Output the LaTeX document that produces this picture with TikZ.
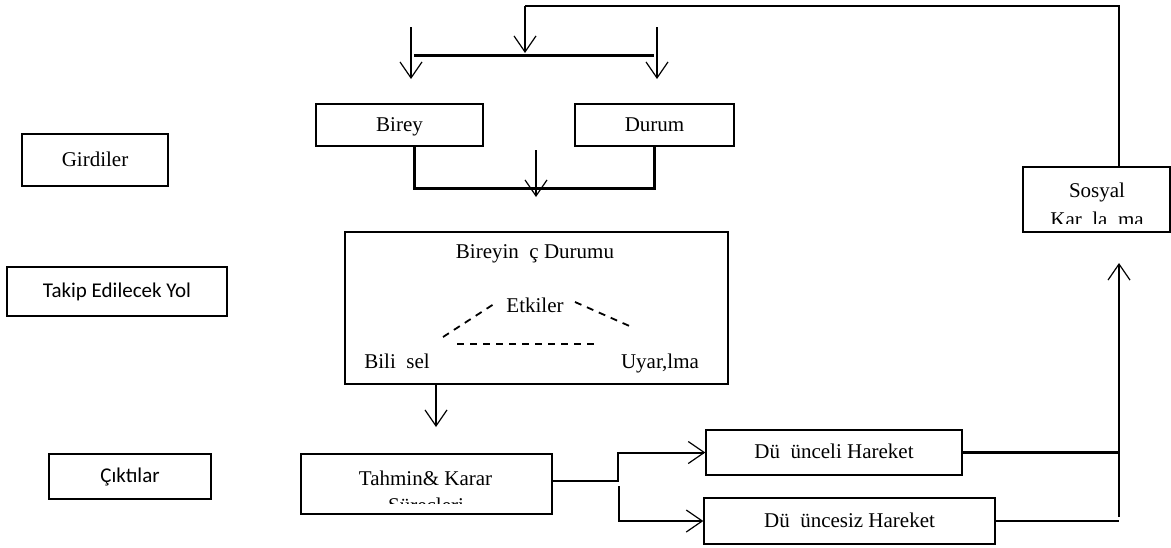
\documentclass[tikz,border=0pt]{standalone}
\usepackage{fontspec}
\setmainfont{Liberation Serif}
\newfontfamily\calibrifont{Carlito}
\usetikzlibrary{arrows.meta}

\begin{document}
\begin{tikzpicture}[x=0.5pt,y=-0.5pt,
    box/.style={draw, line width=0.7pt, inner sep=0pt, text height=1.65ex, text depth=0.25ex},
    arr/.style={-{Straight Barb[length=8pt,width=11pt,line width=0.6pt]}, line width=0.6pt},
    bold/.style={line width=1.5pt},
    link/.style={line width=1.1pt},
    dash line/.style={line width=0.9pt, dash pattern=on 3.5pt off 3pt},
    font=\fontsize{10.5}{12}\selectfont]
    \useasboundingbox (0,0) rectangle (1171,547);

    % the left column
    \node[box, minimum width=73pt, minimum height=26pt] (girdi) at (95,160) {Girdiler};
    \node[box, minimum width=110pt, minimum height=24.5pt, font=\calibrifont\fontsize{10.5}{12}\selectfont] (yol) at (117,291.5) {Takip Edilecek Yol};
    \node[box, minimum width=81pt, minimum height=22.5pt, font=\calibrifont\fontsize{10.5}{12}\selectfont] (cikti) at (130,476.5) {Çıktılar};

    % the input boxes
    \node[box, minimum width=83.5pt, minimum height=21pt] (birey) at (399.5,125) {Birey};
    \node[box, minimum width=79.5pt, minimum height=21pt] (durum) at (654.5,125) {Durum};

    % the inner state (texts placed by hand inside the box)
    \node[box, minimum width=191.5pt, minimum height=76pt] (icdurum) at (536.5,308) {};
    \node[anchor=base] (ictitle) at (535,258) {Bireyin\ \ ç Durumu};
    \node[anchor=base] (etki) at (535,312) {Etkiler};
    \node[anchor=base] (bilis) at (397,368) {Bili\ \ sel};
    \node[anchor=base] (uyar) at (660,368) {Uyar,lma};
    \draw[dash line] (443,337) -- (497,302);
    \draw[dash line] (575,302) -- (634,328);
    \draw[dash line] (457,344) -- (598,344);

    % the process and the outputs
    \node[box, minimum width=125.5pt, minimum height=30pt] (tahmin) at (426.5,484) {};
    \node[anchor=base] (tahmintxt) at (425.5,485) {Tahmin\& Karar};
    \begin{scope}
        \clip (302,455) rectangle (551,503);
        \node[anchor=base] (surec) at (426,512) {Süreçleri};
    \end{scope}
    \node[box, minimum width=128pt, minimum height=22.5pt] (dusunceli) at (834,452.5) {Dü\ \ ünceli Hareket};
    \node[box, minimum width=145.5pt, minimum height=23pt] (dusuncesiz) at (849.5,521) {Dü\ \ üncesiz Hareket};

    % the social comparison
    \node[box, minimum width=73.5pt, minimum height=32.5pt] (sosyal) at (1096.5,199.5) {};
    \node[anchor=base] (sosyaltxt) at (1097,197) {Sosyal};
    \begin{scope}
        \clip (1024,168) rectangle (1169,223);
        \node[anchor=base] (karsi) at (1097,226) {Kar\ \ la\ \ ma};
    \end{scope}

    % points for the lines and arrows
    \coordinate (fbR) at (1119,6);
    \coordinate (fbL) at (525,6);
    \coordinate (barL) at (414,55);
    \coordinate (barR) at (654,55);
    \coordinate (barM) at (525,53);
    \coordinate (inLa) at (411,27);
    \coordinate (inLb) at (411,79);
    \coordinate (inRa) at (657,27);
    \coordinate (inRb) at (657,79);
    \coordinate (joinL) at (414,188);
    \coordinate (joinR) at (654,188);
    \coordinate (midA) at (536,150);
    \coordinate (midB) at (536,197);
    \coordinate (downA) at (436,427);
    \coordinate (split1) at (618,481);
    \coordinate (split2) at (619,486);
    \coordinate (colB) at (1119,517);
    \coordinate (colT) at (1119,263);

    % feedback line on top
    \draw[link] (sosyal.north -| fbR) -- (fbR) -- (fbL);
    \draw[arr] (fbL) -- (barM);
    \draw[bold] (barL) -- (barR);
    \draw[arr] (inLa) -- (inLb);
    \draw[arr] (inRa) -- (inRb);

    % joining the inputs
    \draw[bold] (birey.south -| joinL) -- (joinL) -- (joinR) -- (durum.south -| joinR);
    \draw[arr] (midA) -- (midB);

    % to the outputs
    \draw[arr] (icdurum.south -| downA) -- (downA);
    \draw[arr, line width=1pt] (tahmin.east |- split1) -- (split1) |- (dusunceli.west);
    \draw[arr, line width=1pt] (split2) |- (dusuncesiz.west);

    % back to the social comparison
    \draw[link] (dusunceli.east) -- (dusunceli.east -| colB);
    \draw[link] (dusuncesiz.east) -- (dusuncesiz.east -| colB);
    \draw[arr, line width=1.3pt] (colB) -- (colT);

\end{tikzpicture}
\end{document}
